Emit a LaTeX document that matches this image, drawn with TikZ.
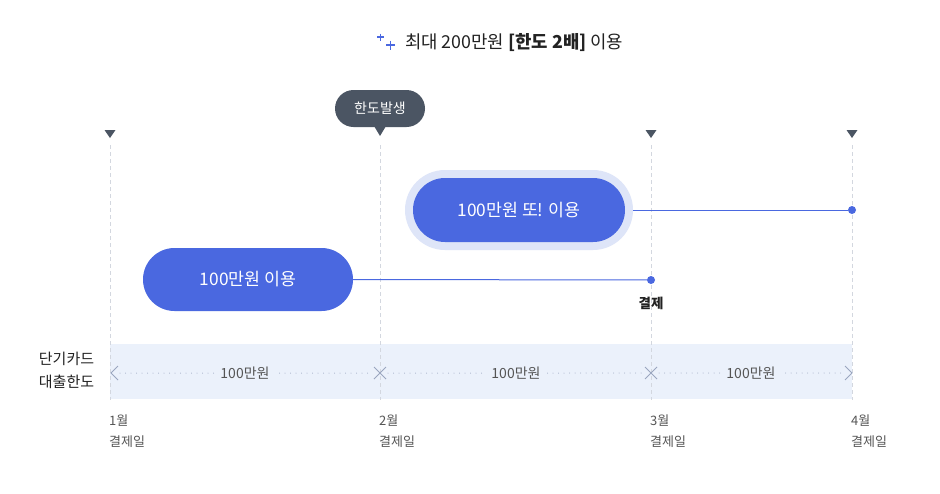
\documentclass[tikz,border=0pt]{standalone}
\usepackage{fontspec}
\setmainfont{Noto Sans CJK KR}
\usetikzlibrary{shapes.geometric}
\definecolor{blueM}{HTML}{4A68E0}
\definecolor{halo}{HTML}{DEE5F8}
\definecolor{band}{HTML}{EBF1FB}
\definecolor{darkg}{HTML}{4B5563}
\definecolor{gridc}{HTML}{D3D7DF}
\definecolor{dotc}{HTML}{9AA6BF}
\definecolor{txt}{HTML}{222222}
\definecolor{subt}{HTML}{555555}
\tikzset{
  vline/.style={gridc, line width=0.8pt, dash pattern=on 4pt off 3pt},
  pill/.style={fill=blueM, text=white, font=\fontsize{17.3}{20}\selectfont, minimum height=63pt, rounded corners=31.5pt, inner sep=0pt},
  conn/.style={blueM, line width=1pt},
  dotm/.style={circle, fill=blueM, minimum size=8pt, inner sep=0pt},
  amt/.style={fill=band, text=subt, font=\fontsize{14}{16}\selectfont, inner xsep=5pt, inner ysep=1pt},
  dotl/.style={dotc, line width=1pt, line cap=round, dash pattern=on 0pt off 5.5pt},
  bandmark/.style={dotc, line width=0.9pt},
  tri/.style={fill=darkg},
  datel/.style={text=subt, font=\fontsize{13}{15}\selectfont, anchor=west, inner sep=0pt},
}
\begin{document}
\begin{tikzpicture}[x=1pt, y=-1pt]
\useasboundingbox (0,0) rectangle (940,493);
\fill[white] (0,0) rectangle (940,493);
% title
\draw[blueM, line width=1.4pt] (377,37) -- (384,37) (380.5,33.5) -- (380.5,40.5);
\draw[blueM, line width=1.4pt] (386,45) -- (395,45) (390.5,40.5) -- (390.5,49.5);
\node[anchor=west, text=txt, font=\fontsize{17.8}{20}\selectfont, inner sep=0pt] (title) at (405,43) {최대 200만원 {\bfseries [한도 2배]} 이용};
% band
\fill[band] (110,344) rectangle (852,399);
% vertical lines
\foreach \x/\n in {110/a,380/b,651/c,852/d} {
  \coordinate (top\n) at (\x,145);
  \coordinate (bot\n) at (\x,400);
  \draw[vline] (top\n) -- (bot\n);
}
% top triangles
\foreach \x in {110,651,852} {
  \fill[tri] (\x-5.5,130) -- (\x+5.5,130) -- (\x,138) -- cycle;
}
% tooltip
\node[fill=darkg, text=white, font=\fontsize{14}{16}\selectfont, minimum width=90pt, minimum height=37pt, rounded corners=18.5pt, inner sep=0pt] (tip) at (380,108.5) {한도발생};
\fill[darkg] (374,126) -- (386,126) -- (380,136) -- cycle;
% pills
\node[pill, minimum width=210pt] (p1) at (248,279.5) {100만원 이용};
\node[fill=halo, minimum width=228pt, minimum height=80pt, rounded corners=40pt, inner sep=0pt] (p2h) at (519,210) {};
\node[pill, minimum width=212pt, minimum height=64pt, rounded corners=32pt] (p2) at (519,210) {100만원 또! 이용};
\node[dotm] (d1) at (651,280) {};
\node[dotm] (d2) at (852,210) {};
\draw[conn] (p1.east) -- (d1);
\draw[conn] (p2h.east) -- (d2);
\node[text=txt, font=\bfseries\fontsize{13.5}{15}\selectfont] (pay) at (651,303) {결제};
% band contents
\coordinate (ma) at (110,373);
\coordinate (mb) at (380,373);
\coordinate (mc) at (651,373);
\coordinate (md) at (852,373);
\draw[dotl] (120,373) -- (372,373);
\draw[dotl] (388,373) -- (643,373);
\draw[dotl] (659,373) -- (844,373);
\node[amt] (amt1) at (245,373) {100만원};
\node[amt] (amt2) at (516,373) {100만원};
\node[amt] (amt3) at (751,373) {100만원};
\draw[bandmark] (118,366) -- (111,373) -- (118,380);
\draw[bandmark] (374,367) -- (386,379) (374,379) -- (386,367);
\draw[bandmark] (645,367) -- (657,379) (645,379) -- (657,367);
\draw[bandmark] (845,366) -- (852,373) -- (845,380);
\node[text=txt, font=\fontsize{15}{23}\selectfont, align=center] (lim) at (66.5,370) {단기카드\\대출한도};
% date labels
\foreach \x/\m/\n in {110/1/a,380/2/b,651/3/c,852/4/d} {
  \node[datel] (m\n) at (\x-1,421) {\m{}월};
  \node[datel] (e\n) at (\x-1,442) {결제일};
}
\end{tikzpicture}
\end{document}
